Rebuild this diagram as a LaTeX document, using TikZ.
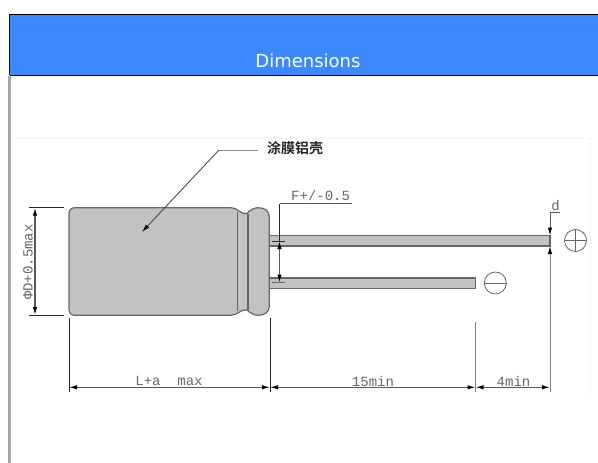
\documentclass[tikz,border=0pt]{standalone}
\usepackage{fontspec}
\setmainfont{DejaVu Sans}
\newfontfamily\cadfont{Liberation Mono}
\newfontfamily\cjkfont{Noto Sans CJK SC Bold}
\usetikzlibrary{arrows.meta}
\definecolor{bandblue}{HTML}{3B88FF}
\definecolor{partgray}{HTML}{C2C2C2}
\definecolor{edgegray}{HTML}{666666}
\tikzset{
	tip/.tip={Latex[length=8pt,width=4.5pt,color=black]},
	part/.style={fill=partgray, draw=edgegray, line width=1.2pt},
	dimline/.style={draw=black!65, line width=1.2pt, tip-tip},
	extline/.style={draw=black!85, line width=1pt},
	cadtext/.style={inner sep=0pt, text=black!60, font=\cadfont\fontsize{14}{14}\selectfont},
	polarity/.style={circle, draw=edgegray, line width=.8pt, minimum size=22pt, inner sep=0pt}
}
\begin{document}
\begin{tikzpicture}[x=1pt, y=-1pt]
	\useasboundingbox (0,0) rectangle (598,463);
	% header band
	\fill [bandblue] (9.5,14) rectangle (598,75);
	\draw [black, line width=.8pt] (9.5,75) -- (9.5,14) -- (598,14);
	\draw [black, line width=.8pt] (9.5,75.5) -- (598,75.5);
	\fill [black!35] (8,76) rectangle (11,463);
	\node (title) [inner sep=0pt, text=white, font=\fontsize{18}{18}\selectfont] at (308,61) {Dimensions};
	% faint edge of the scan
	\draw [black!4, line width=.6pt] (16,138) -- (590,138) -- (590,397);
	% leads
	\draw [part] (269,235.5) rectangle (550,246);
	\draw [part] (269,278) rectangle (475.5,288.5);
	% can
	\draw [part] (75,207.7) .. controls (71,207.7) and (69,210) .. (69,214)
		-- (69,309) .. controls (69,313) and (71,315.3) .. (75,315.3)
		-- (231,315.3) .. controls (238,315.3) and (240,309) .. (247,310)
		.. controls (250,313) and (254,315.3) .. (258,315.3)
		.. controls (265,315.3) and (269.3,312) .. (269.3,306)
		-- (269.3,217) .. controls (269.3,211) and (265,207.7) .. (258,207.7)
		.. controls (254,207.7) and (250,210) .. (247,213.5)
		.. controls (240,214.5) and (238,207.7) .. (231,207.7) -- cycle;
	\draw [edgegray, line width=1.1pt] (237.5,212) -- (237.5,311) (248,213.5) -- (248,310);
	% polarity marks
	\node (plus) [polarity] at (575.5,240.5) {};
	\draw [edgegray, line width=.8pt] (plus.west) -- (plus.east) (plus.north) -- (plus.south);
	\node (minus) [polarity] at (495.3,283) {};
	\draw [edgegray, line width=.8pt] (minus.west) -- (minus.east);
	% coating label
	\node (coat) [inner sep=0pt, anchor=west, font=\cjkfont\fontsize{14}{14}\selectfont, text=black!85] at (267,148.5) {涂膜铝壳};
	\coordinate (coatknee) at (219,150);
	\coordinate (coattip) at (142,232);
	\draw [draw=black!45, line width=1pt] (258,150) -- (coatknee);
	\draw [draw=black!70, line width=.9pt, -tip] (coatknee) -- (coattip);
	% diameter
	\coordinate (dtop) at (35,207.7);
	\coordinate (dbot) at (35,315);
	\draw [extline] (29,207.7) -- (64,207.7);
	\draw [extline] (29,315) -- (64,315);
	\draw [dimline] (dtop) -- (dbot);
	\node (dlabel) [cadtext, rotate=90] at (28,262) {ΦD+0.5max};
	% pitch
	\node (pitch) [cadtext, anchor=base west] at (291,200.5) {F+/-0.5};
	\coordinate (pknee) at (279.5,203.5);
	\coordinate (ptop) at (279.5,241);
	\coordinate (pbot) at (279.5,282.5);
	\draw [extline, draw=black!65] (352,203.5) -- (pknee);
	\draw [dimline] (ptop) -- (pbot);
	\draw [extline] (pknee) -- (ptop);
	\draw [extline] (271.5,241) -- (285,241);
	\draw [extline, draw=black!60] (271.5,282.7) -- (285,282.7);
	% wire diameter
	\node (wire) [cadtext, anchor=base] at (555.5,210) {d};
	\coordinate (wknee) at (550,212);
	\coordinate (wtop) at (550,235.5);
	\coordinate (wbot) at (550,246);
	\draw [extline, draw=black!65] (560,212) -- (wknee);
	\draw [extline, draw=black!65, -tip] (wknee) -- (wtop);
	% lengths
	\coordinate (xa) at (69,387.3);
	\coordinate (xb) at (270,387.3);
	\coordinate (xc) at (475.5,387.3);
	\coordinate (xd) at (550,387.3);
	\draw [extline] (69,317.5) -- (69,392);
	\draw [extline] (270,317.5) -- (270,392);
	\draw [extline, draw=black!50] (475.5,322) -- (475.5,392);
	\draw [extline, draw=black!50, -tip] (550,392) -- (wbot);
	\draw [dimline] (xa) -- (xb);
	\draw [dimline] (xb) -- (xc);
	\draw [dimline] (xc) -- (xd);
	\node (llabel) [cadtext] at (169,381) {L+a\ \ max};
	\node (rlabel) [cadtext] at (373,381) {15min};
	\node (slabel) [cadtext] at (513.5,381) {4min};
\end{tikzpicture}
\end{document}
